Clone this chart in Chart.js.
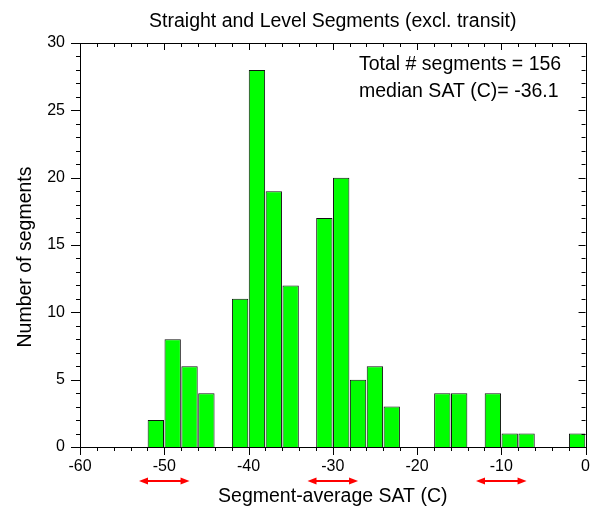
<!DOCTYPE html>
<html>
<head>
<meta charset="utf-8">
<script src="https://cdn.jsdelivr.net/npm/chart.js@4.4.0/dist/chart.umd.min.js"></script>
<style>
  html, body { margin: 0; padding: 0; background: #fff; }
</style>
</head>
<body>
<canvas id="histChart" width="600" height="508"></canvas>
<script>
// 2 C wide bins: centre of each bin and the number of segments in it
const binCenters = [-51, -49, -47, -45, -41, -39, -37, -35, -31, -29, -27, -25, -23, -17, -15, -11, -9, -7, -1];
const segmentCounts = [2, 8, 6, 4, 11, 28, 19, 12, 17, 20, 5, 6, 3, 4, 4, 4, 1, 1, 1];

const xTickValues = [-60, -50, -40, -30, -20, -10, 0];
const yTickValues = [0, 5, 10, 15, 20, 25, 30];
const xMinorStep = 2;
const yMinorStep = 1;

// temperature ranges marked with red arrows under the axis
const markerSpans = [[-53, -47], [-33, -27], [-13, -7]];
const statLines = ["Total # segments = 156", "median SAT (C)= -36.1"];

const FONT = '"Liberation Sans", Arial, Helvetica, sans-serif';
Chart.defaults.font.family = FONT;
Chart.defaults.color = "#000";

function arrowHead(ctx, tipX, tipY, dir) {
  ctx.beginPath();
  ctx.moveTo(tipX, tipY);
  ctx.lineTo(tipX + dir * 9, tipY - 3.5);
  ctx.lineTo(tipX + dir * 9, tipY + 3.5);
  ctx.closePath();
  ctx.fill();
}

// box frame with major/minor ticks, arrows and the stats text
const frameTicks = {
  id: "frameTicks",
  afterDatasetsDraw(chart) {
    const { ctx, chartArea: a, scales: { x, y } } = chart;
    ctx.save();
    ctx.strokeStyle = "#000";
    ctx.lineWidth = 1;
    ctx.beginPath();
    for (let v = x.min; v <= x.max + 1e-9; v += xMinorStep) {
      const px = Math.round(x.getPixelForValue(v)) + 0.5;
      const major = v % 10 === 0;
      ctx.moveTo(px, a.bottom);
      ctx.lineTo(px, a.bottom + (major ? 8 : 4));
      ctx.moveTo(px, a.top);
      ctx.lineTo(px, a.top + (major ? 7 : 4));
    }
    for (let v = y.min; v <= y.max + 1e-9; v += yMinorStep) {
      const py = Math.round(y.getPixelForValue(v)) + 0.5;
      const major = v % 5 === 0;
      ctx.moveTo(a.left, py);
      ctx.lineTo(a.left - (major ? 9 : 4), py);
      ctx.moveTo(a.right, py);
      ctx.lineTo(a.right - (major ? 7 : 4), py);
    }
    ctx.stroke();
    ctx.strokeRect(Math.round(a.left) + 0.5, Math.round(a.top) + 0.5,
      Math.round(a.right - a.left), Math.round(a.bottom - a.top));

    // red double arrows
    ctx.strokeStyle = "#ff0000";
    ctx.fillStyle = "#ff0000";
    ctx.lineWidth = 2;
    const ay = 481;
    markerSpans.forEach(([v0, v1]) => {
      const x0 = x.getPixelForValue(v0);
      const x1 = x.getPixelForValue(v1);
      ctx.beginPath();
      ctx.moveTo(x0 + 6, ay);
      ctx.lineTo(x1 - 6, ay);
      ctx.stroke();
      arrowHead(ctx, x0, ay, 1);
      arrowHead(ctx, x1, ay, -1);
    });

    ctx.fillStyle = "#000";
    ctx.font = "19.5px " + FONT;
    ctx.textAlign = "left";
    ctx.textBaseline = "alphabetic";
    statLines.forEach((t, i) => ctx.fillText(t, 359, 70 + i * 27));

    // y axis title, sits a little below the plot centre
    ctx.translate(26, 257);
    ctx.rotate(-Math.PI / 2);
    ctx.textAlign = "center";
    ctx.textBaseline = "middle";
    ctx.fillText("Number of segments", 0, 0);
    ctx.restore();
  }
};

new Chart(document.getElementById("histChart"), {
  type: "bar",
  data: {
    datasets: [{
      data: binCenters.map((c, i) => ({ x: c, y: segmentCounts[i] })),
      backgroundColor: "#00ff00",
      borderColor: "#111",
      borderWidth: 1,
      barPercentage: 0.97,
      categoryPercentage: 1
    }]
  },
  options: {
    responsive: false,
    animation: false,
    devicePixelRatio: 1,
    layout: { padding: { left: 0, right: 8, top: 0, bottom: 0 } },
    plugins: {
      legend: { display: false },
      tooltip: { enabled: false },
      title: {
        display: true,
        fullSize: false,
        text: "Straight and Level Segments (excl. transit)",
        color: "#000",
        font: { size: 19.5, weight: "normal" },
        padding: { top: 10, bottom: 9.6 }
      }
    },
    scales: {
      x: {
        type: "linear",
        min: -60,
        max: 0,
        offset: false,
        grid: { display: false, drawTicks: false },
        border: { display: false },
        afterBuildTicks: s => { s.ticks = xTickValues.map(v => ({ value: v })); },
        afterFit: s => { s.height = 61; },
        ticks: { font: { size: 16 }, color: "#000", padding: 10, maxRotation: 0, autoSkip: false },
        title: { display: true, text: "Segment-average SAT (C)", font: { size: 19.5 }, color: "#000", padding: 0 }
      },
      y: {
        min: 0,
        max: 30,
        grid: { display: false, drawTicks: false },
        border: { display: false },
        afterBuildTicks: s => { s.ticks = yTickValues.map(v => ({ value: v })); },
        afterFit: s => { s.width = 80; },
        ticks: { font: { size: 16 }, color: "#000", padding: 15 }
      }
    }
  },
  plugins: [frameTicks]
});
</script>
</body>
</html>
